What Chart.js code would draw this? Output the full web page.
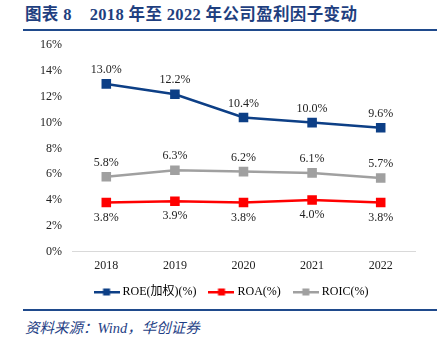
<!DOCTYPE html>
<html>
<head>
<meta charset="utf-8">
<script src="https://cdn.jsdelivr.net/npm/chart.js@4.4.1/dist/chart.umd.min.js"></script>
<style>
  body { margin: 0; background: #fff; width: 445px; height: 339px; position: relative; overflow: hidden; }
  #title { position: absolute; left: 25px; top: 1px; font: bold 16.5px "Liberation Serif", "Noto Sans CJK SC", serif; letter-spacing: 0.35px; color: #1f3f7f; white-space: pre; }
  #topLine { position: absolute; left: 23px; top: 29px; width: 414px; height: 2px; background: #1f4a8c; }
  #bottomLine { position: absolute; left: 23px; top: 309px; width: 414px; height: 2px; background: #1f4a8c; }
  #source { position: absolute; left: 25px; top: 316px; font: italic 14.5px "Liberation Serif", "Noto Sans CJK SC", serif; color: #1f3f86; white-space: pre; }
  #wrap { position: absolute; left: 0; top: 28px; width: 445px; height: 280px; }
</style>
</head>
<body>
<div id="title">图表 8    2018 年至 2022 年公司盈利因子变动</div>
<div id="topLine"></div>
<div id="wrap"><canvas id="chart"></canvas></div>
<div id="bottomLine"></div>
<div id="source">资料来源：Wind，华创证券</div>
<script>
// data
const years = ["2018", "2019", "2020", "2021", "2022"];
const roe = [13.0, 12.2, 10.4, 10.0, 9.6];
const roa = [3.8, 3.9, 3.8, 4.0, 3.8];
const roic = [5.8, 6.3, 6.2, 6.1, 5.7];

const seriesNames = ["ROE(加权)(%)", "ROA(%)", "ROIC(%)"];
const seriesColors = ["#0d3f86", "#ff0000", "#a0a0a0"];
const labelSide = [-1, 1, -1]; // -1 above the point, 1 below

const fontFamily = '"Liberation Serif", "Noto Sans CJK SC", serif';

// legend marker: short line with a square in the middle
function legendMarker(color) {
  const c = document.createElement("canvas");
  c.width = 26;
  c.height = 8;
  const g = c.getContext("2d");
  g.fillStyle = color;
  g.fillRect(0, 3, 26, 2.5);
  g.fillRect(9.5, 0.5, 7, 7);
  return c;
}

// value labels on each point
const valueLabels = {
  id: "valueLabels",
  afterDatasetsDraw(chart) {
    const ctx = chart.ctx;
    ctx.save();
    ctx.font = "12px " + fontFamily;
    ctx.fillStyle = "#222";
    ctx.textAlign = "center";
    ctx.textBaseline = "middle";
    chart.data.datasets.forEach((ds, i) => {
      const meta = chart.getDatasetMeta(i);
      meta.data.forEach((pt, j) => {
        const off = labelSide[i] < 0 ? -14 : 15;
        ctx.fillText(ds.data[j].toFixed(1) + "%", pt.x, pt.y + off);
      });
    });
    ctx.restore();
  },
};

// the legend sits a bit right of the canvas centre in the reference
const shiftLegend = {
  id: "shiftLegend",
  afterLayout(chart) {
    chart.legend.left += 25;
    chart.legend.right += 25;
  },
};

const datasets = [roe, roa, roic].map((vals, i) => ({
  label: seriesNames[i],
  data: vals,
  borderColor: seriesColors[i],
  backgroundColor: seriesColors[i],
  borderWidth: 2.5,
  pointStyle: "rect",
  pointRadius: 5,
  pointHoverRadius: 5,
  tension: 0,
}));

new Chart(document.getElementById("chart").getContext("2d"), {
  type: "line",
  data: { labels: years, datasets: datasets },
  plugins: [valueLabels, shiftLegend],
  options: {
    responsive: true,
    maintainAspectRatio: false,
    animation: false,
    layout: { padding: { top: 0, right: 30, left: 0, bottom: 0 } },
    plugins: {
      tooltip: { enabled: false },
      legend: {
        position: "bottom",
        labels: {
          usePointStyle: true,
          pointStyleWidth: 20,
          boxHeight: 8,
          padding: 6,
          color: "#222",
          font: { family: fontFamily, size: 12 },
          generateLabels(chart) {
            return chart.data.datasets.map((ds, i) => ({
              text: i < 2 ? ds.label + "   " : ds.label,
              fillStyle: seriesColors[i],
              strokeStyle: seriesColors[i],
              lineWidth: 0,
              pointStyle: legendMarker(seriesColors[i]),
              datasetIndex: i,
              hidden: false,
            }));
          },
        },
      },
    },
    scales: {
      x: {
        offset: true,
        grid: { display: false, drawTicks: false },
        border: { display: true, color: "#d9d9d9", width: 1 },
        ticks: { color: "#222", padding: 7, font: { family: fontFamily, size: 12 } },
      },
      y: {
        min: 0,
        max: 16,
        grid: { display: false, drawTicks: false },
        border: { display: false },
        afterFit(axis) { axis.width = 72; },
        ticks: {
          stepSize: 2,
          padding: 10,
          color: "#222",
          font: { family: fontFamily, size: 12 },
          callback: (v) => v + "%",
        },
      },
    },
  },
});
</script>
</body>
</html>
